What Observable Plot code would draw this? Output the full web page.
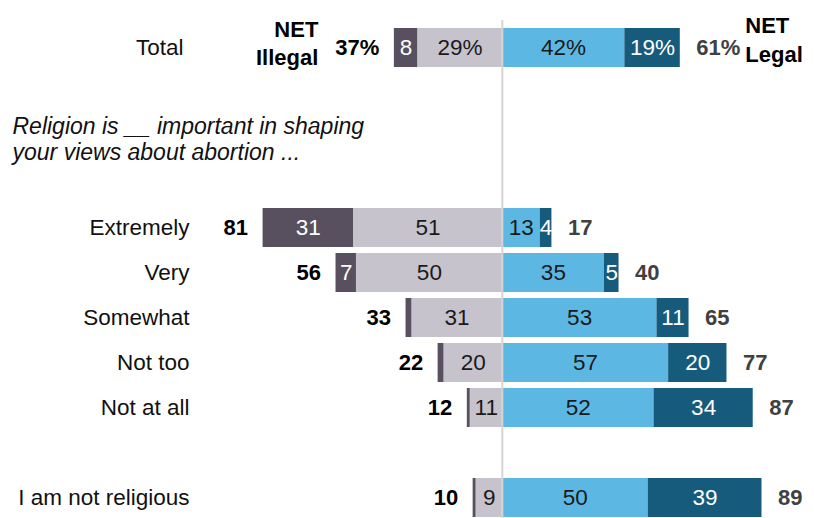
<!DOCTYPE html>
<html><head><meta charset="utf-8">
<script src="https://cdn.jsdelivr.net/npm/d3@7"></script>
<script src="https://cdn.jsdelivr.net/npm/@observablehq/plot@0.6"></script>
<style>body{margin:0;background:#fff;} svg{display:block;}</style>
</head><body><div id="chart"></div>
<script>
const categories = ["Total","Extremely","Very","Somewhat","Not too","Not at all","I am not religious"];
const illegalAll  = [8, 31, 7, 2, 2, 1, 1];
const illegalMost = [29, 51, 50, 31, 20, 11, 9];
const legalMost   = [42, 13, 35, 53, 57, 52, 50];
const legalAll    = [19, 4, 5, 11, 20, 34, 39];
const netIllegal  = [37, 81, 56, 33, 22, 12, 10];
const netLegal    = [61, 17, 40, 65, 77, 87, 89];
const intro = "Religion is __ important in shaping\nyour views about abortion ...";

const slots = ["Total"," 1"," 2"," 3","Extremely","Very","Somewhat","Not too","Not at all"," 4","I am not religious"];
const keys = ["Illegal in most cases","Illegal in all cases","Legal in most cases","Legal in all cases"];
const colors = ["#c6c3cd","#58505e","#5cb8e3","#175b7c"];

const table = [];
categories.forEach((c, i) => {
  table.push({cat: c, key: keys[0], v: -illegalMost[i], n: illegalMost[i], dark: false});
  table.push({cat: c, key: keys[1], v: -illegalAll[i],  n: illegalAll[i],  dark: true});
  table.push({cat: c, key: keys[2], v: legalMost[i],    n: legalMost[i],   dark: false});
  table.push({cat: c, key: keys[3], v: legalAll[i],     n: legalAll[i],    dark: true});
});
const fmt = d => d.n < 3 ? "" : (d.cat === "Total" && d.n >= 10 ? d.n + "%" : String(d.n));

const nets = categories.map((c, i) => ({
  cat: c,
  left: -(illegalMost[i] + illegalAll[i]),
  right: legalMost[i] + legalAll[i],
  tl: i === 0 ? netIllegal[i] + "%" : String(netIllegal[i]),
  tr: i === 0 ? netLegal[i] + "%" : String(netLegal[i])
}));

const font = "'Liberation Sans', Arial, sans-serif";
const chart = Plot.plot({
  width: 814, height: 518,
  marginTop: 0, marginBottom: 0, marginLeft: 0, marginRight: 0,
  style: {fontFamily: font, fontSize: "22px", background: "#fff", overflow: "visible"},
  x: {domain: [-172, 107], axis: null},
  y: {type: "band", domain: slots, range: [23.3, 520.7], paddingInner: 0.14, paddingOuter: 0, axis: null},
  color: {domain: keys, range: colors},
  marks: [
    Plot.barX(table, Plot.stackX({x: "v", y: "cat", fill: "key"})),
    Plot.ruleX([0], {stroke: "#d4d4d4", strokeWidth: 2, insetTop: 20}),
    Plot.text(table, Plot.stackX({x: "v", y: "cat", text: d => d.dark ? "" : fmt(d), fill: "#1a1a1a", fontSize: 22.5})),
    Plot.text(table, Plot.stackX({x: "v", y: "cat", text: d => d.dark ? fmt(d) : "", fill: "#ffffff", fontSize: 22.5})),
    Plot.text(nets, {x: "left", y: "cat", text: "tl", textAnchor: "end", dx: -15, fontWeight: "bold", fontSize: 22, fill: "#000"}),
    Plot.text(nets, {x: "right", y: "cat", text: "tr", textAnchor: "start", dx: 16, fontWeight: "bold", fontSize: 22, fill: "#404040"}),
    Plot.text(nets.slice(0, 1), {x: "left", y: "cat", text: () => "NET\nIllegal", textAnchor: "end", dx: -76, dy: -6, lineHeight: 1.3, fontWeight: "bold", fontSize: 22, fill: "#000"}),
    Plot.text(nets.slice(0, 1), {x: "right", y: "cat", text: () => "NET\nLegal", textAnchor: "start", dx: 65, dy: -10, lineHeight: 1.32, fontWeight: "bold", fontSize: 22, fill: "#000"}),
    Plot.text(categories.slice(1), {y: d => d, text: d => d, frameAnchor: "left", dx: 189, textAnchor: "end", fontSize: 22.5, fill: "#111"}),
    Plot.text(categories.slice(0, 1), {y: d => d, text: d => d, frameAnchor: "left", dx: 183, textAnchor: "end", fontSize: 22.5, fill: "#111"}),
    Plot.text([intro], {y: [" 2"], text: d => d, frameAnchor: "left", dx: 12, dy: 1, textAnchor: "start", fontStyle: "italic", fontSize: 23, lineHeight: 1.13, fill: "#111"})
  ]
});
document.getElementById("chart").append(chart);
</script>
</body></html>
